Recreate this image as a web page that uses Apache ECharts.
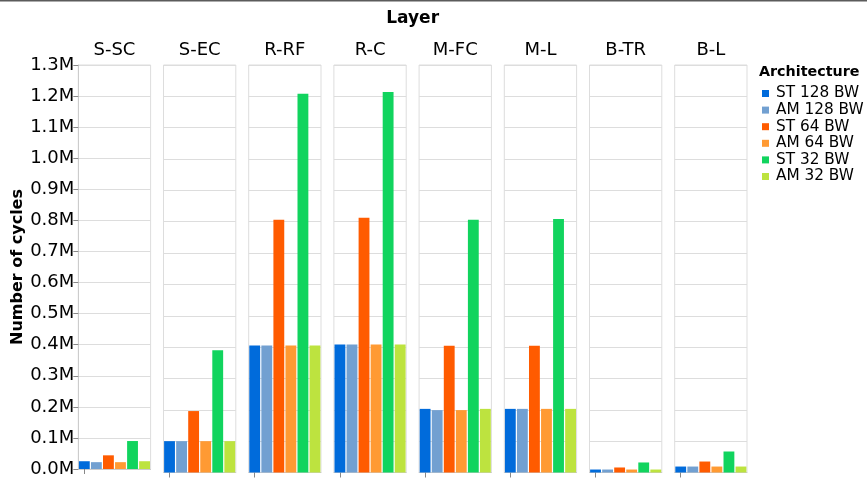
<!DOCTYPE html>
<html>
<head>
<meta charset="utf-8">
<script src="https://cdn.jsdelivr.net/npm/echarts@6/dist/echarts.min.js"></script>
<style>
  html, body { margin: 0; padding: 0; background: #fff; }
  #chart { width: 867px; height: 478px; }
</style>
</head>
<body>
<div id="chart"></div>
<script>
// Layers (one facet each) and architectures (one bar each inside a facet)
const layers = ['S-SC', 'S-EC', 'R-RF', 'R-C', 'M-FC', 'M-L', 'B-TR', 'B-L'];
const architectures = ['ST 128 BW', 'AM 128 BW', 'ST 64 BW', 'AM 64 BW', 'ST 32 BW', 'AM 32 BW'];

// Number of cycles per layer, one array per architecture
const st128 = [25000, 100000, 405000, 408000, 203000, 203000, 9500, 19000];
const am128 = [22000, 100000, 405000, 408000, 199000, 203000, 9500, 19000];
const st64  = [44000, 196000, 806000, 813000, 404000, 404000, 16000, 35000];
const am64  = [22000, 100000, 405000, 408000, 199000, 203000, 9500, 19000];
const st32  = [90000, 390000, 1208000, 1214000, 806000, 809000, 32000, 67000];
const am32  = [25000, 100000, 405000, 408000, 203000, 203000, 9500, 19000];

// Y axis ticks
const yMin = 0, yMax = 1300000, yStep = 100000;

const seriesValues = [st128, am128, st64, am64, st32, am32];
const colors = ['#006bdb', '#72a0d1', '#ff5b00', '#ff9a33', '#11d45e', '#bde33f'];

const FONT = 'DejaVu Sans';
const panelLeft0 = 78.3, panelPitch = 85.2, panelWidth = 72.3;
const panelTop = 65, panelHeight = 407.5;

const grids = [], xAxes = [], yAxes = [], series = [], graphics = [];

layers.forEach((layer, g) => {
  const left = panelLeft0 + panelPitch * g;
  grids.push({
    left: left, top: panelTop, width: panelWidth, height: panelHeight,
    show: true, borderColor: '#dddddd', borderWidth: 1, backgroundColor: 'transparent'
  });
  xAxes.push({
    gridIndex: g, type: 'category', data: architectures,
    axisLine: { show: true, lineStyle: { color: '#cccccc', width: 1 } },
    axisTick: { show: true, alignWithLabel: true, length: 5, lineStyle: { color: '#888888' } },
    axisLabel: { show: false }
  });
  yAxes.push({
    gridIndex: g, type: 'value', min: yMin, max: yMax, interval: yStep,
    name: g === 0 ? 'Number of cycles' : '',
    nameLocation: 'middle', nameRotate: 90, nameGap: 51,
    nameTextStyle: { fontFamily: FONT, fontSize: 16, fontWeight: 'bold', color: '#000' },
    axisLine: { show: g === 0, lineStyle: { color: '#cccccc' } },
    axisTick: { show: g === 0, length: 5, lineStyle: { color: '#888888' } },
    axisLabel: {
      show: g === 0, margin: 4, fontFamily: FONT, fontSize: 18, color: '#000',
      formatter: v => (v / 1e6).toFixed(1) + 'M'
    },
    splitLine: { show: true, lineStyle: { color: '#dddddd', width: 1 } }
  });
  architectures.forEach((arch, a) => {
    const data = architectures.map((_, i) => (i === a ? seriesValues[a][g] : null));
    series.push({
      name: arch, type: 'bar', xAxisIndex: g, yAxisIndex: g,
      stack: 'layer' + g, barCategoryGap: '10%',
      itemStyle: { color: colors[a] },
      data: data, silent: true
    });
  });
  graphics.push({
    type: 'text', silent: true,
    style: {
      x: left + panelWidth / 2, y: 50, text: layer, align: 'center', verticalAlign: 'middle',
      font: '18px "DejaVu Sans"', fill: '#000'
    }
  });
});

// Facet header and legend heading
graphics.push({
  type: 'text', silent: true,
  style: {
    x: panelLeft0 + (panelPitch * 7 + panelWidth) / 2, y: 19, text: 'Layer',
    align: 'center', verticalAlign: 'middle', font: 'bold 17px "DejaVu Sans"', fill: '#000'
  }
});
graphics.push({
  type: 'text', silent: true,
  style: {
    x: 759, y: 72, text: 'Architecture', align: 'left', verticalAlign: 'middle',
    font: 'bold 14.3px "DejaVu Sans"', fill: '#000'
  }
});
// Thin frame line along the top edge
graphics.push({
  type: 'rect', silent: true,
  shape: { x: 0, y: 0, width: 867, height: 1.5 },
  style: { fill: '#5b5b5b' }
});

const chart = echarts.init(document.getElementById('chart'), null, { renderer: 'canvas' });
chart.setOption({
  animation: false,
  backgroundColor: '#ffffff',
  grid: grids, xAxis: xAxes, yAxis: yAxes, series: series,
  legend: {
    orient: 'vertical', left: 762, top: 86, padding: 0,
    icon: 'rect', itemWidth: 7, itemHeight: 7, itemGap: 1.6,
    selectedMode: false,
    data: architectures,
    textStyle: { fontFamily: FONT, fontSize: 15.3, lineHeight: 15, color: '#000', padding: [0, 0, 0, 2] }
  },
  graphic: graphics
});
</script>
</body>
</html>
